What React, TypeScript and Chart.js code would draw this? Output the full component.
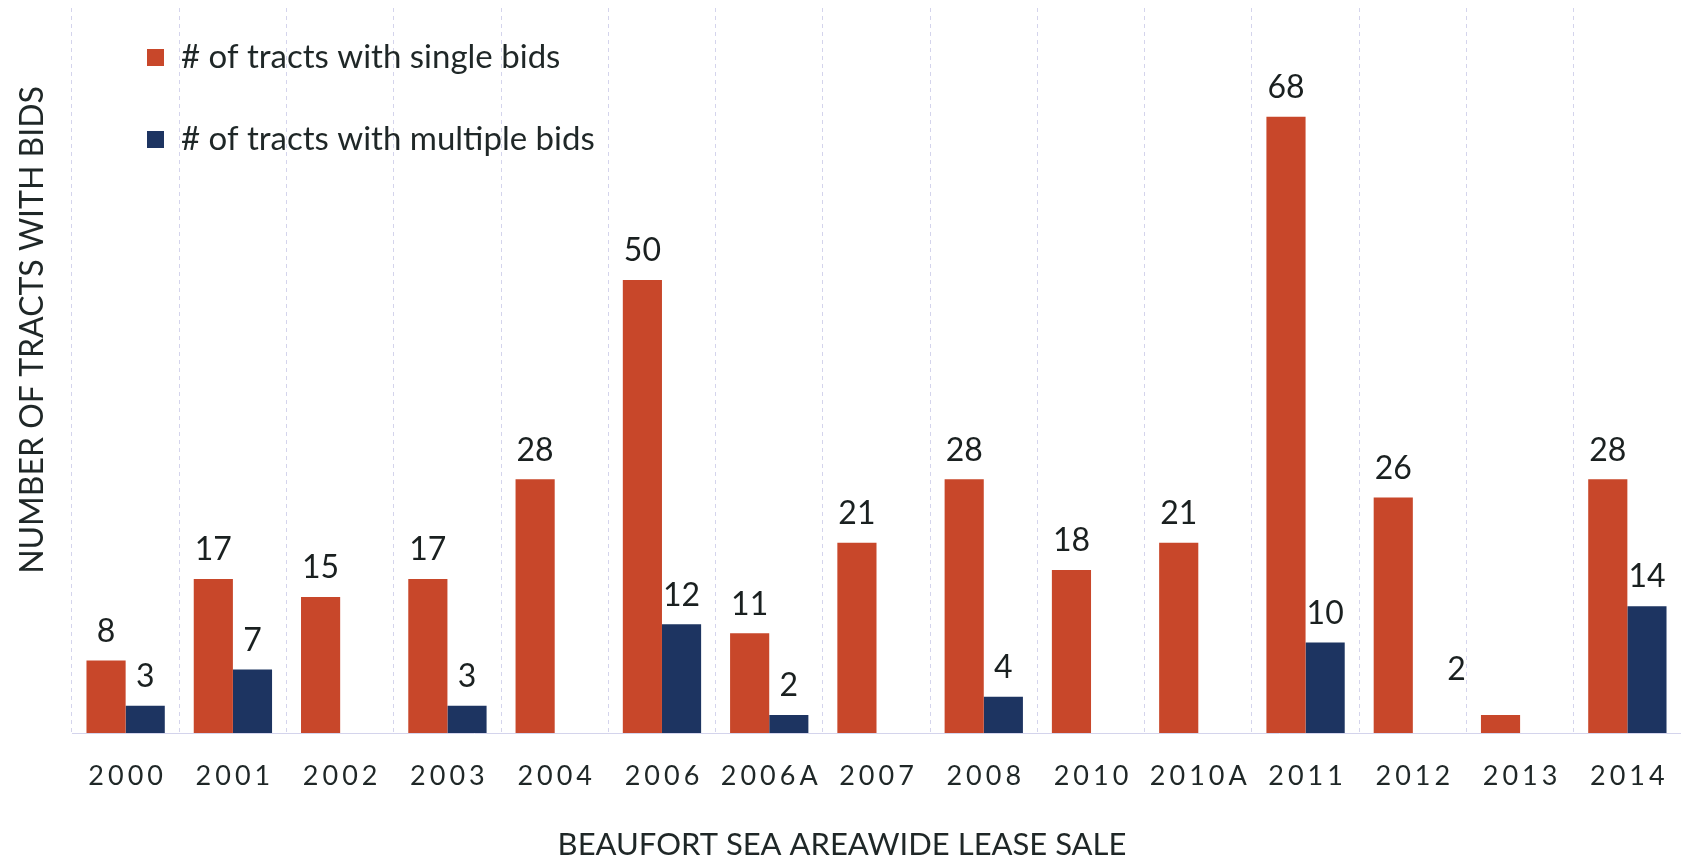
import React, { useEffect, useRef } from "react";
import { Chart, registerables } from "chart.js";

Chart.register(...registerables);

const categories = ["2000", "2001", "2002", "2003", "2004", "2006", "2006A", "2007", "2008", "2010", "2010A", "2011", "2012", "2013", "2014"];
const singleBids = [8, 17, 15, 17, 28, 50, 11, 21, 28, 18, 21, 68, 26, 2, 28];
const multipleBids = [3, 7, null, 3, null, 12, 2, null, 4, null, null, 10, null, null, 14];
const seriesNames = ["# of tracts with single bids", "# of tracts with multiple bids"];
const xTitle = "BEAUFORT SEA AREAWIDE LEASE SALE";
const yTitle = "NUMBER OF TRACTS WITH BIDS";

const ORANGE = "#c8472a";
const NAVY = "#1d3461";
const TEXT = "#1f2727";
const FONT = "Lato, 'Open Sans', sans-serif";

// style-only: the 2013 label sits shifted left/up in the reference
const labelShift: Record<string, [number, number]> = { "0-13": [-44, -16] };

const decorPlugin = {
  id: "decor",
  afterDraw(chart: any) {
    const ctx = chart.ctx;
    const area = chart.chartArea;
    const xScale = chart.scales.x;
    ctx.save();
    // tick labels
    ctx.fillStyle = TEXT;
    ctx.font = `27px ${FONT}`;
    ctx.textAlign = "center";
    ctx.textBaseline = "middle";
    (ctx as any).letterSpacing = "4px";
    chart.data.labels.forEach((lab: string, i: number) => {
      const x = xScale.getPixelForValue(i);
      ctx.fillText(lab, x + 2, area.bottom + 43);
    });
    (ctx as any).letterSpacing = "0px";
    // x title
    ctx.font = `31px ${FONT}`;
    ctx.fillText(xTitle, 842, area.bottom + 112);
    // y title
    ctx.font = `32px ${FONT}`;
    ctx.save();
    ctx.translate(33, 330);
    ctx.rotate(-Math.PI / 2);
    ctx.fillText(yTitle, 0, 0);
    ctx.restore();
    // data labels
    ctx.font = `32px ${FONT}`;
    ctx.fillStyle = "#1a2020";
    chart.data.datasets.forEach((ds: any, di: number) => {
      const meta = chart.getDatasetMeta(di);
      meta.data.forEach((bar: any, i: number) => {
        const v = ds.data[i];
        if (v === null || v === undefined) return;
        const sh = labelShift[`${di}-${i}`] || [0, 0];
        ctx.fillText(String(v), bar.x + sh[0], bar.y - 29 + sh[1]);
      });
    });
    // legend
    ctx.textAlign = "left";
    ctx.font = `33px ${FONT}`;
    chart.data.datasets.forEach((ds: any, di: number) => {
      const cy = 57 + di * 82;
      ctx.fillStyle = ds.backgroundColor;
      ctx.fillRect(147, cy - 8, 17, 17);
      ctx.fillStyle = TEXT;
      ctx.fillText(ds.label, 181, cy);
    });
    ctx.restore();
  },
};

export default function App() {
  const ref = useRef<HTMLCanvasElement | null>(null);
  useEffect(() => {
    if (!ref.current) return;
    const chart = new Chart(ref.current, {
      type: "bar",
      data: {
        labels: categories,
        datasets: [
          { label: seriesNames[0], data: singleBids, backgroundColor: ORANGE, categoryPercentage: 0.73, barPercentage: 1.0 },
          { label: seriesNames[1], data: multipleBids, backgroundColor: NAVY, categoryPercentage: 0.73, barPercentage: 1.0 },
        ],
      },
      options: {
        responsive: false,
        animation: false,
        layout: { padding: { left: 72, right: 0, top: 8, bottom: 129 } },
        plugins: { legend: { display: false }, tooltip: { enabled: false } },
        scales: {
          x: {
            ticks: { display: false },
            grid: { offset: true, drawTicks: false, color: "#d4d4ec", lineWidth: 1 },
            border: { display: true, color: "#d4d4ec", dash: [4, 4] },
          },
          y: { display: false, min: 0, max: 80 },
        },
      },
      plugins: [decorPlugin],
    } as any);
    return () => chart.destroy();
  }, []);
  return (
    <div style={{ position: "absolute", left: 0, top: 0, width: 1681, height: 862, background: "#fff" }}>
      <canvas ref={ref} width={1681} height={862} style={{ display: "block" }} />
    </div>
  );
}
